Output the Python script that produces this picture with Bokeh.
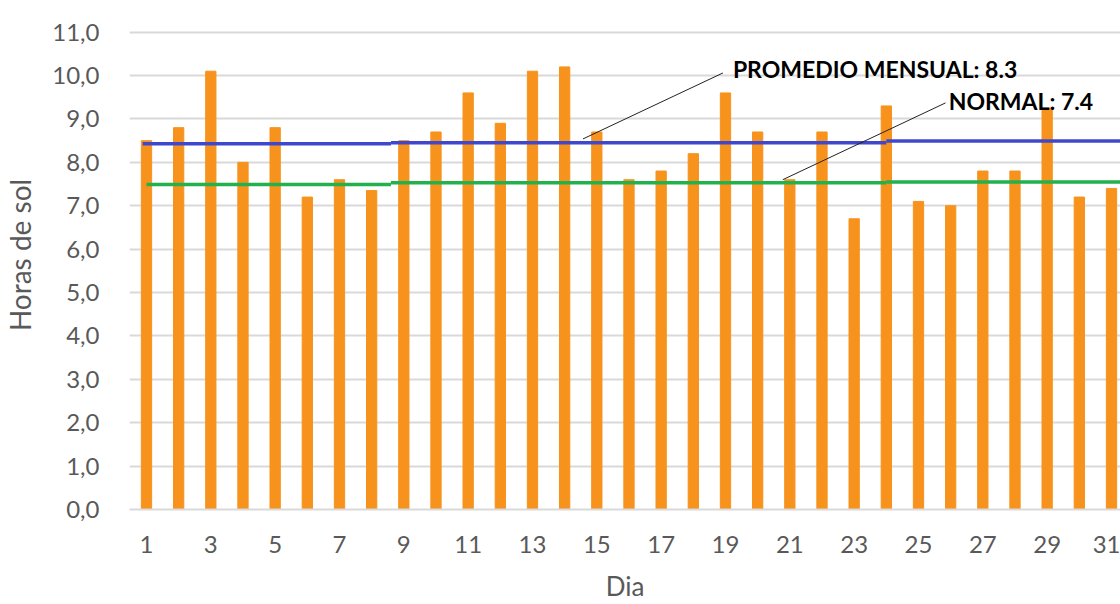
from bokeh.plotting import figure
from bokeh.models import FixedTicker, Range1d, Label
from bokeh.embed import file_html
from bokeh.resources import INLINE

# ---- data ----
dias = list(range(1, 32))
horas_sol = [8.5, 8.8, 10.1, 8.0, 8.8, 7.2, 7.6, 7.35, 8.5, 8.7,
             9.6, 8.9, 10.1, 10.2, 8.7, 7.6, 7.8, 8.2, 9.6, 8.7,
             7.6, 8.7, 6.7, 9.3, 7.1, 7.0, 7.8, 7.8, 9.25, 7.2, 7.4]
# reference lines drawn in steps (start day, end day, value)
promedio_ini = [0.88, 8.6, 24.0]
promedio_fin = [8.6, 24.0, 31.3]
promedio_val = [8.43, 8.45, 8.49]
normal_ini = [1.0, 8.6, 24.0]
normal_fin = [8.6, 24.0, 31.3]
normal_val = [7.49, 7.53, 7.55]
y_ticks = list(range(0, 12))
x_ticks = list(range(1, 32, 2))
texto_promedio = "PROMEDIO MENSUAL:  8.3"
texto_normal = "NORMAL: 7.4"
titulo_x = "Dia"
titulo_y = "Horas de sol"

FONT = "Lato"
GRAY = "#595959"

p = figure(width=1120, height=604, output_backend="svg", toolbar_location=None,
           x_range=Range1d(0.472, 31.28), y_range=Range1d(0, 11.73),
           min_border_left=128, min_border_right=0, min_border_top=0,
           min_border_bottom=93)
p.outline_line_color = None

p.vbar(x=dias, top=horas_sol, width=0.32, color="#f7931d")

for x0, x1, v in zip(promedio_ini, promedio_fin, promedio_val):
    p.line([x0, x1], [v, v], line_color="#3f48cc", line_width=3.5)
for x0, x1, v in zip(normal_ini, normal_fin, normal_val):
    p.line([x0, x1], [v, v], line_color="#22b14c", line_width=3.5)

# leader lines from annotations to the reference lines
p.line([14.57, 18.92], [8.54, 10.06], line_color="#222222", line_width=1)
p.line([20.78, 25.84], [7.60, 9.37], line_color="#222222", line_width=1)

p.add_layout(Label(x=19.23, y=10.15, text=texto_promedio, text_font=FONT,
                   text_font_style="bold", text_font_size="23px",
                   text_baseline="middle", text_color="black"))
p.add_layout(Label(x=25.94, y=9.41, text=texto_normal, text_font=FONT,
                   text_font_style="bold", text_font_size="23px",
                   text_baseline="middle", text_color="black"))

# axes
p.yaxis.ticker = FixedTicker(ticks=y_ticks)
p.yaxis.major_label_overrides = {t: f"{t},0" for t in y_ticks}
p.xaxis.ticker = FixedTicker(ticks=x_ticks)
for ax in (p.xaxis[0], p.yaxis[0]):
    ax.major_tick_line_color = None
    ax.minor_tick_line_color = None
    ax.major_label_text_font = FONT
    ax.major_label_text_font_size = "24px"
    ax.major_label_text_color = GRAY
    ax.axis_label_text_font = FONT
    ax.axis_label_text_font_style = "normal"
    ax.axis_label_text_color = GRAY
p.yaxis.axis_label_text_font_size = "28px"
p.xaxis.axis_label_text_font_size = "26px"
p.yaxis.axis_line_color = None
p.xaxis.axis_line_color = "#d9d9d9"
p.xaxis.axis_line_width = 2
p.yaxis.major_label_standoff = 24
p.xaxis.major_label_standoff = 20
p.xaxis.axis_label = titulo_x
p.xaxis.axis_label_standoff = 14
p.yaxis.axis_label = titulo_y
p.yaxis.axis_label_standoff = 12

p.xgrid.grid_line_color = None
p.ygrid.grid_line_color = "#d9d9d9"
p.ygrid.grid_line_width = 2
p.ygrid.ticker = FixedTicker(ticks=y_ticks)

open("out.html", "w").write(file_html(p, INLINE))
